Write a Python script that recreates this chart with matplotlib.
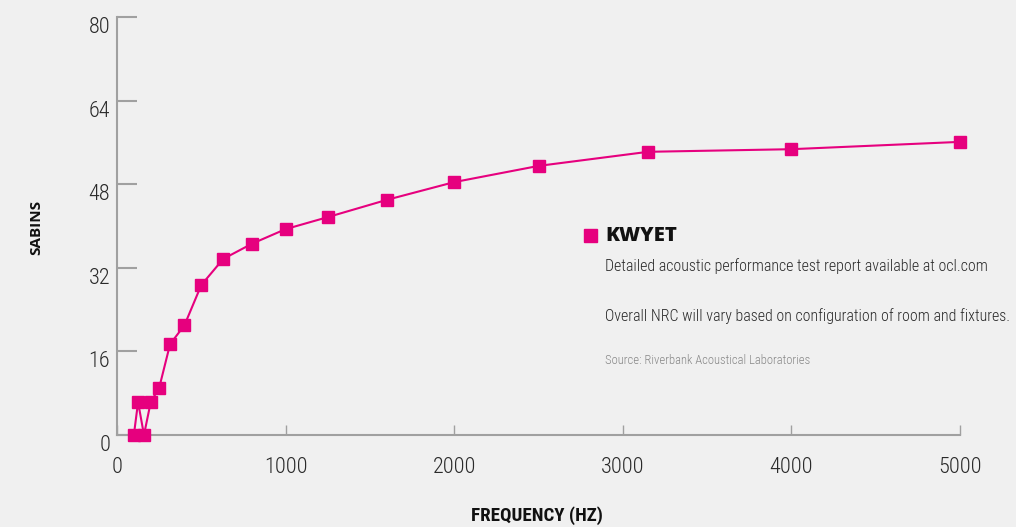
import matplotlib
matplotlib.use("Agg")
import matplotlib.pyplot as plt
import matplotlib.transforms as mtransforms
from matplotlib import font_manager

freqs = [100, 125, 160, 200, 250, 315, 400, 500, 630, 800, 1000, 1250, 1600, 2000, 2500, 3150, 4000, 5000]
sabins = [0, 6.3, 0, 6.3, 9.0, 17.4, 21.0, 28.7, 33.7, 36.6, 39.4, 41.7, 45.0, 48.4, 51.5, 54.2, 54.7, 56.1]
xticks = [0, 1000, 2000, 3000, 4000, 5000]
yticks = [0, 16, 32, 48, 64, 80]
series_name = "KWYET"
notes = ["Detailed acoustic performance test report available at ocl.com",
         "Overall NRC will vary based on configuration of room and fixtures."]
source = "Source: Riverbank Acoustical Laboratories"

fl = font_manager.fontManager.ttflist
names = {f.name for f in fl}
cond = None
cond_stretch = "normal"
for cand in ["Roboto Condensed", "Liberation Sans Narrow", "Open Sans Condensed"]:
    if cand in names:
        cond = cand
        break
if cond is None:
    dvc = [f for f in fl if f.name == "DejaVu Sans" and str(f.stretch) in ("condensed", "semi-condensed", "500", "600")]
    if dvc:
        cond = "DejaVu Sans"
        cond_stretch = "condensed"
    else:
        cond = "Roboto"
bold = "Open Sans"

BG = "#f0f0f0"
MAG = "#e6007e"
GRAY = "#a0a0a0"
TXT = "#2a2a2a"

fig = plt.figure(figsize=(10.16, 5.27), dpi=100, facecolor=BG)
renderer = fig.canvas.get_renderer()

def fit(t, width_px):
    w = t.get_window_extent(renderer).width
    t.set_fontsize(t.get_fontsize() * width_px / w)

ax = fig.add_axes([117/1016, 1-435/527, (960-117)/1016, (435-17)/527])
ax.set_facecolor(BG)

ax.plot(freqs, sabins, color=MAG, lw=1.5, marker="s", ms=8, mec=MAG, mfc=MAG, clip_on=False, zorder=3)

ax.set_xlim(0, 5000)
ax.set_ylim(0, 80)
ax.set_xticks(xticks)
ax.set_yticks(yticks)
ax.set_xticklabels([str(v) for v in xticks])
ax.set_yticklabels([str(v) for v in yticks])

for s in ["top", "right"]:
    ax.spines[s].set_visible(False)
for s in ["left", "bottom"]:
    ax.spines[s].set_color(GRAY)
    ax.spines[s].set_linewidth(1.5)

ax.tick_params(axis="y", direction="in", length=14.5, width=1.5, color=GRAY, pad=5,
               labelsize=16, labelcolor=TXT)
ax.tick_params(axis="x", direction="in", length=7, width=1.0, color=GRAY, pad=16,
               labelsize=16, labelcolor=TXT)
for lab in ax.get_yticklabels() + ax.get_xticklabels():
    lab.set_fontfamily(cond)
    lab.set_fontstretch(cond_stretch)
    lab.set_fontweight("light")
offset = mtransforms.ScaledTranslation(0, -8/100, fig.dpi_scale_trans)
for lab in ax.get_yticklabels():
    lab.set_transform(lab.get_transform() + offset)

t = fig.text(36/1016, 1-227/527, "SABINS", rotation=90, ha="center", va="center",
             fontsize=11, fontweight="bold", family=bold, color="#111111")
t = fig.text(537/1016, 1-516/527, "FREQUENCY (HZ)", ha="center", va="center",
             fontsize=11, fontweight="semibold", family=cond, fontstretch=cond_stretch, color="#111111")
fit(t, 131)

fig.patches.append(plt.Rectangle((584/1016, 1-242/527), 13/1016, 13/527,
                                 transform=fig.transFigure, color=MAG, figure=fig))
t = fig.text(605/1016, 1-236/527, series_name, ha="left", va="center",
             fontsize=13, fontweight="heavy", family=bold, color="#111111")
fit(t, 72)
t = fig.text(605/1016, 1-266/527, notes[0], ha="left", va="center",
             fontsize=12.5, family=cond, fontstretch=cond_stretch, fontweight="light", color=TXT)
fit(t, 382)
t = fig.text(605/1016, 1-316/527, notes[1], ha="left", va="center",
             fontsize=12.5, family=cond, fontstretch=cond_stretch, fontweight="light", color=TXT)
fit(t, 405)
t = fig.text(605/1016, 1-361/527, source, ha="left", va="center",
             fontsize=9, family=cond, fontstretch=cond_stretch, fontweight="light", color="#888888")
fit(t, 206)

fig.savefig("out.png", dpi=100, facecolor=BG)
